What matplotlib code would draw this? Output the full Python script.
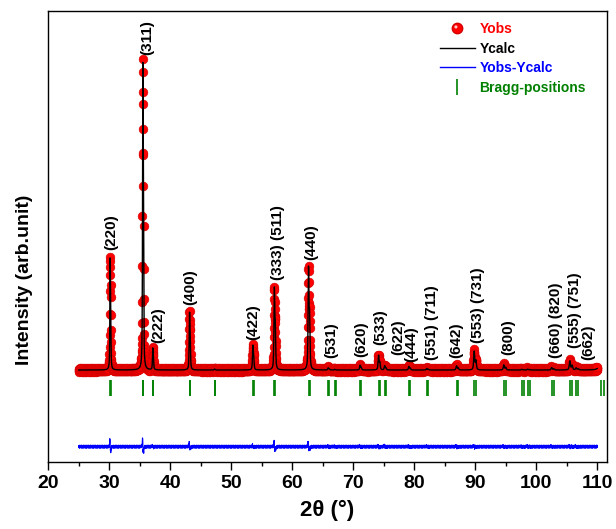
import numpy as np
import matplotlib
matplotlib.use("Agg")
import matplotlib.pyplot as plt
from matplotlib.lines import Line2D
from matplotlib.path import Path
from matplotlib.legend_handler import HandlerTuple

plt.rcParams['font.family'] = ['Liberation Sans', 'DejaVu Sans']
plt.rcParams['font.weight'] = 'bold'

# Reflection positions (2theta, deg): K-alpha1 and K-alpha2
bragg_ka1 = [30.14, 35.50, 37.13, 43.15, 47.25, 53.53, 57.06, 62.66, 65.89, 66.94,
             71.10, 74.14, 75.14, 79.11, 82.05, 86.92, 89.82, 94.68, 97.60, 98.58,
             102.52, 105.50, 106.52, 110.61]
bragg_ka2 = [30.22, 35.59, 37.23, 43.26, 47.37, 53.67, 57.21, 62.83, 66.07, 67.13,
             71.30, 74.35, 75.36, 79.34, 82.30, 87.19, 90.10, 94.99, 97.92, 98.91,
             102.87, 105.87, 106.90, 111.02]
# peak heights above background (arb. units)
peak_height = [364, 1000, 71, 188, 3, 81, 270, 338, 7, 2,
               16, 48, 14, 12, 5, 14, 62, 17, 2, 3,
               8, 30, 7, 5]
# size of the misfit wiggle in the difference curve at each reflection
resid_amp = [25, 30, 4, 14, 0, 6, 18, 16, 3, 2,
             3, 4, 3, 3, 2, 3, 4, 3, 2, 2,
             2, 3, 2, 0]
# counting-noise texture (arb. units), repeated along the scan
noise = [2, -3, 1, 4, -2, -5, 3, 0, -1, 5, -4, 2, -2, 3, -3,
         1, 4, -1, -4, 2, 0, -3, 5, -2, 1, -5, 3, -1, 2]

hkl_text = ["(220)", "(311)", "(222)", "(400)", "(422)", "(333) (511)", "(440)",
            "(531)", "(620)", "(533)", "(622)", "(444)", "(551) (711)", "(642)",
            "(553) (731)", "(800)", "(660) (820)", "(555) (751)", "(662)"]
hkl_x = [30.4, 36.3, 38.03, 43.23, 53.6, 57.7, 63.18,
         66.46, 71.38, 74.38, 77.4, 79.57, 82.85, 86.95,
         90.5, 95.4, 103.3, 106.3, 108.5]
hkl_y = [390, 1024, 88, 211, 97, 292, 357,
         39, 43, 81, 49, 27, 32, 39,
         88, 49, 39, 71, 32]

diff_offset = -249
bragg_level = -60


def pvoigt(x, c, w, eta=0.6):
    u = (x - c) / w
    return eta / (1 + 4 * u ** 2) + (1 - eta) * np.exp(-4 * np.log(2) * u ** 2)


tt = np.arange(25.0, 110.0001, 0.02)
ycalc = np.zeros_like(tt)
resid = np.zeros_like(tt)
for p1, p2, h, a in zip(bragg_ka1, bragg_ka2, peak_height, resid_amp):
    w = 0.11 + 0.0015 * (p1 - 30)
    prof = pvoigt(tt, p1, w) + 0.5 * pvoigt(tt, p2, w)
    prof = prof / prof.max()
    ycalc += h * prof
    g = np.gradient(prof, tt)
    resid += a * g / np.abs(g).max()
resid += np.resize(noise, tt.size)
yobs = ycalc + resid

fig = plt.figure(figsize=(6.16, 5.29), dpi=100)
ax = fig.add_axes([0.0784, 0.1272, 0.9065, 0.8526])

ax.plot(tt, yobs, 'o', color='red', mec='#d40000', mew=0.4, ms=6.3, zorder=2)
ax.plot(tt, ycalc, color='black', lw=1.0, zorder=3)
ax.plot(tt, resid + diff_offset, color='blue', lw=0.8, zorder=3)
ax.plot(bragg_ka1 + bragg_ka2, [bragg_level] * (2 * len(bragg_ka1)), '|',
        color='green', ms=11.5, mew=1.2, zorder=3)

for t, x, y in zip(hkl_text, hkl_x, hkl_y):
    ax.text(x, y, t, rotation=90, ha='center', va='bottom', fontsize=11,
            fontweight='bold', zorder=4)

ax.set_xlim(20, 111.54)
ax.set_ylim(-298, 1168)
ax.set_xticks(range(20, 111, 10))
ax.set_xticks(range(25, 111, 10), minor=True)
ax.set_yticks([])
ax.tick_params(axis='x', which='major', direction='out', length=5.5, width=1,
               labelsize=14, pad=4)
ax.tick_params(axis='x', which='minor', direction='out', length=3, width=1)
for lab in ax.get_xticklabels():
    lab.set_fontweight('bold')
for s in ax.spines.values():
    s.set_linewidth(1.0)

ax.set_xlabel("2θ (°)", fontsize=16, fontweight='bold', labelpad=6)
ax.set_ylabel("Intensity (arb.unit)", fontsize=14, fontweight='bold')
ax.yaxis.set_label_coords(-0.027, 0.403)

# legend: red ball with a small highlight
hl = Path.circle(center=(-0.3, 0.3), radius=0.3)
hl_path = Path(np.vstack([[[1, 1], [-1, -1]], hl.vertices]),
               [Path.MOVETO, Path.MOVETO] + list(hl.codes))
h_ball = Line2D([], [], marker='o', ls='', color='red', mec='#d40000', ms=7.5)
h_shine = Line2D([], [], marker=hl_path, ls='', color='#ffc8c8', mew=0, ms=7.5)
h_calc = Line2D([], [], color='black', lw=1.0)
h_diff = Line2D([], [], color='blue', lw=1.0)
h_bragg = Line2D([], [], marker='|', ls='', color='green', ms=11.5, mew=1.2)
leg = ax.legend([(h_ball, h_shine), h_calc, h_diff, h_bragg],
                ["Yobs", "Ycalc", "Yobs-Ycalc", "Bragg-positions"],
                handler_map={tuple: HandlerTuple(ndivide=1, pad=0)},
                loc='upper left', bbox_to_anchor=(0.7015, 0.975),
                frameon=False, borderpad=0, borderaxespad=0, numpoints=1,
                handlelength=2.5, handletextpad=0.35, labelspacing=0.4,
                prop={'size': 10, 'weight': 'bold'})
for txt, c in zip(leg.get_texts(), ['red', 'black', 'blue', 'green']):
    txt.set_color(c)

fig.savefig("out.png", dpi=100)
